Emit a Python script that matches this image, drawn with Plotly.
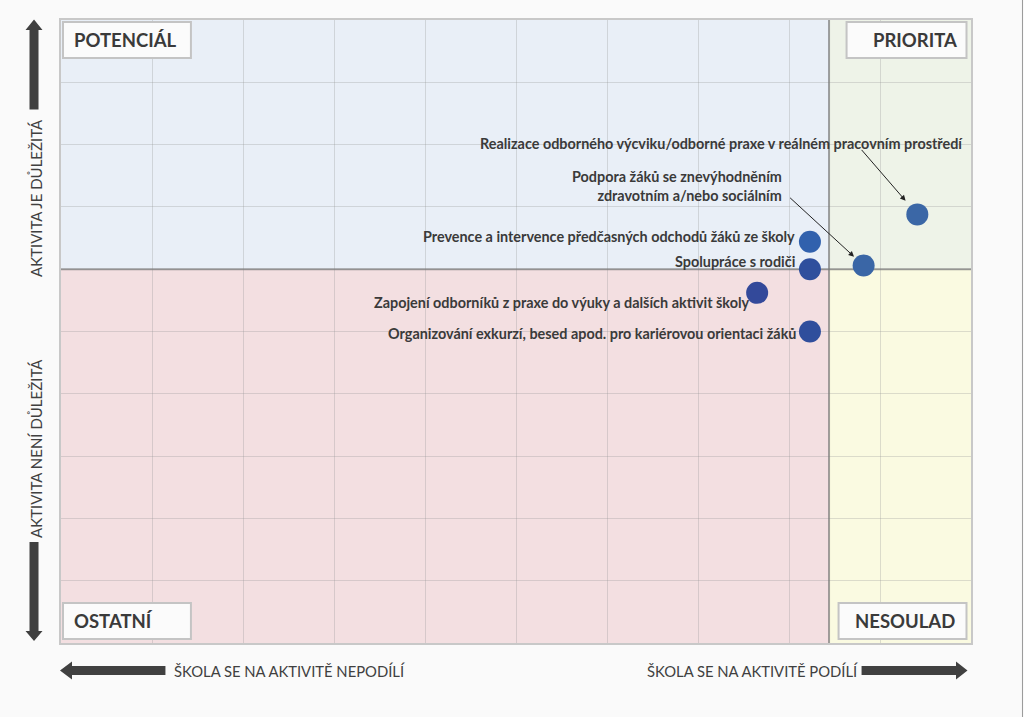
import plotly.graph_objects as go

# ---------------- data ----------------
activities = [
    "Realizace odborného výcviku/odborné praxe v reálném pracovním prostředí",
    "Podpora žáků se znevýhodněním<br>zdravotním a/nebo sociálním",
    "Prevence a intervence předčasných odchodů žáků ze školy",
    "Spolupráce s rodiči",
    "Zapojení odborníků z praxe do výuky a dalších aktivit školy",
    "Organizování exkurzí, besed apod. pro kariérovou orientaci žáků",
]
participation = [9.41, 8.82, 8.23, 8.23, 7.65, 8.23]   # x: škola se na aktivitě podílí
importance = [6.88, 6.06, 6.44, 6.00, 5.62, 5.00]      # y: aktivita je důležitá
threshold_x = 8.44
threshold_y = 6.0
quadrant_names = ["POTENCIÁL", "PRIORITA", "OSTATNÍ", "NESOULAD"]

# ---------------- styling ----------------
point_colors = ["#3b67a6", "#3a66a6", "#3161ad", "#2f4f9d", "#33499a", "#2f4e9c"]
# label placement relative to each point (pixels): xshift, yshift, xanchor
label_pos = [(48, 71, "right"), (-80, 79, "right"), (-13, 5, "right"),
             (-13, 8, "right"), (-6, -10, "right"), (-12, -2, "right")]
# arrows from label to point: (index, ax, ay, standoff)
label_arrows = [(0, -57, -66, 18), (1, -75, -69, 13)]

W, H = 1024, 717
L, R, T, B = 61, 971.5, 20, 643
PW, PH = R - L, B - T


def px(x):
    return (x - L) / PW


def py(y):
    return (B - y) / PH


TXT = "#3a3a3a"
DARK = "#404040"
FONT = "Lato"

fig = go.Figure()
fig.add_trace(go.Scatter(
    x=participation, y=importance, mode="markers",
    marker=dict(size=22, color=point_colors, line=dict(width=0)),
    hoverinfo="skip", showlegend=False,
))

shapes = []
# quadrants
quad_fill = ["#e9eff7", "#eef3e8", "#f3dfe1", "#fafae1"]
shapes += [
    dict(type="rect", xref="x", yref="y", x0=0, x1=threshold_x, y0=threshold_y, y1=10,
         fillcolor=quad_fill[0], line=dict(width=0), layer="below"),
    dict(type="rect", xref="x", yref="y", x0=threshold_x, x1=10, y0=threshold_y, y1=10,
         fillcolor=quad_fill[1], line=dict(width=0), layer="below"),
    dict(type="rect", xref="x", yref="y", x0=0, x1=threshold_x, y0=0, y1=threshold_y,
         fillcolor=quad_fill[2], line=dict(width=0), layer="below"),
    dict(type="rect", xref="x", yref="y", x0=threshold_x, x1=10, y0=0, y1=threshold_y,
         fillcolor=quad_fill[3], line=dict(width=0), layer="below"),
]
# dividers
shapes += [
    dict(type="line", xref="x", yref="y", x0=threshold_x, x1=threshold_x, y0=0, y1=10,
         line=dict(color="rgba(120,120,120,0.7)", width=2), layer="between"),
    dict(type="line", xref="x", yref="y", x0=0, x1=10, y0=threshold_y, y1=threshold_y,
         line=dict(color="rgba(120,120,120,0.7)", width=2), layer="between"),
]
# quadrant label boxes
boxes = [(63, 22, 191, 58), (847, 22, 967, 58), (63, 603, 191, 639), (839, 603, 967, 639)]
for (x0, y0, x1, y1) in boxes:
    shapes.append(dict(type="rect", xref="paper", yref="paper",
                       x0=px(x0), x1=px(x1), y0=py(y1), y1=py(y0),
                       fillcolor="#fbfbfb", line=dict(color="#c4c4c4", width=2), layer="above"))


def arrow_path(pts):
    return "M " + " L ".join(f"{px(a):.5f},{py(b):.5f}" for a, b in pts) + " Z"


# up arrow (left)
cx = 34
up = [(cx, 19.5), (cx + 8.5, 30), (cx + 4.5, 30), (cx + 4.5, 109.5), (cx - 4.5, 109.5),
      (cx - 4.5, 30), (cx - 8.5, 30)]
down = [(cx, 641), (cx + 8.5, 631), (cx + 4.5, 631), (cx + 4.5, 542), (cx - 4.5, 542),
        (cx - 4.5, 631), (cx - 8.5, 631)]
cy = 670.5
left = [(60, cy), (72, cy - 9), (72, cy - 4.5), (165.5, cy - 4.5), (165.5, cy + 4.5),
        (72, cy + 4.5), (72, cy + 9)]
right = [(968, cy), (956.5, cy - 9), (956.5, cy - 4.5), (862, cy - 4.5), (862, cy + 4.5),
         (956.5, cy + 4.5), (956.5, cy + 9)]
for pts in (up, down, left, right):
    shapes.append(dict(type="path", xref="paper", yref="paper", path=arrow_path(pts),
                       fillcolor=DARK, line=dict(width=0), layer="above"))
# right page border
shapes.append(dict(type="line", xref="paper", yref="paper", x0=px(1023), x1=px(1023),
                   y0=py(0), y1=py(717), line=dict(color="#9a9a9a", width=1)))

annotations = []
# point labels
for i, (name, xv, yv) in enumerate(zip(activities, participation, importance)):
    xs, ys, xa = label_pos[i]
    annotations.append(dict(
        x=xv, y=yv, xref="x", yref="y", text=name, showarrow=False,
        xanchor=xa, yanchor="middle", xshift=xs, yshift=ys, align="right",
        font=dict(family=FONT, size=14.4, color=TXT, weight=700),
    ))
for (i, ax, ay, so) in label_arrows:
    annotations.append(dict(
        x=participation[i], y=importance[i], xref="x", yref="y", text="",
        showarrow=True, ax=ax, ay=ay, axref="pixel", ayref="pixel",
        arrowhead=2, arrowsize=1.1, arrowwidth=1, arrowcolor="#222222", standoff=so,
    ))
# quadrant titles
qpos = [(72, 40, "left"), (959, 40, "right"), (72, 621, "left"), (957, 621, "right")]
for name, (x, y, xa) in zip(quadrant_names, qpos):
    annotations.append(dict(
        x=px(x), y=py(y), xref="paper", yref="paper", text=name, showarrow=False,
        xanchor=xa, yanchor="middle", font=dict(family=FONT, size=18.5, color=TXT, weight=700),
    ))
# axis descriptions
annotations += [
    dict(x=px(36), y=py(198), xref="paper", yref="paper", text="AKTIVITA JE DŮLEŽITÁ",
         textangle=-90, showarrow=False, xanchor="center", yanchor="middle",
         font=dict(family=FONT, size=15, color=DARK)),
    dict(x=px(36), y=py(449), xref="paper", yref="paper", text="AKTIVITA NENÍ DŮLEŽITÁ",
         textangle=-90, showarrow=False, xanchor="center", yanchor="middle",
         font=dict(family=FONT, size=15, color=DARK)),
    dict(x=px(172), y=py(cy), xref="paper", yref="paper", text="ŠKOLA SE NA AKTIVITĚ NEPODÍLÍ",
         showarrow=False, xanchor="left", yanchor="middle",
         font=dict(family=FONT, size=14.8, color=DARK)),
    dict(x=px(860), y=py(cy), xref="paper", yref="paper", text="ŠKOLA SE NA AKTIVITĚ PODÍLÍ",
         showarrow=False, xanchor="right", yanchor="middle",
         font=dict(family=FONT, size=14.8, color=DARK)),
]

axis_common = dict(
    range=[0, 10], dtick=1, tick0=0, showgrid=True, gridcolor="rgba(150,150,150,0.3)",
    gridwidth=1, zeroline=False, showticklabels=False, ticks="",
    showline=True, mirror=True, linecolor="#c8c8c8", linewidth=2, fixedrange=True,
)
fig.update_layout(
    width=W, height=H, autosize=False,
    margin=dict(l=L, r=W - R, t=T, b=H - B, pad=0),
    paper_bgcolor="#fafafa", plot_bgcolor="#fafafa",
    xaxis=axis_common, yaxis=axis_common,
    shapes=shapes, annotations=annotations, showlegend=False,
    font=dict(family=FONT),
)
fig.write_html("out.html", config={"displayModeBar": False})
